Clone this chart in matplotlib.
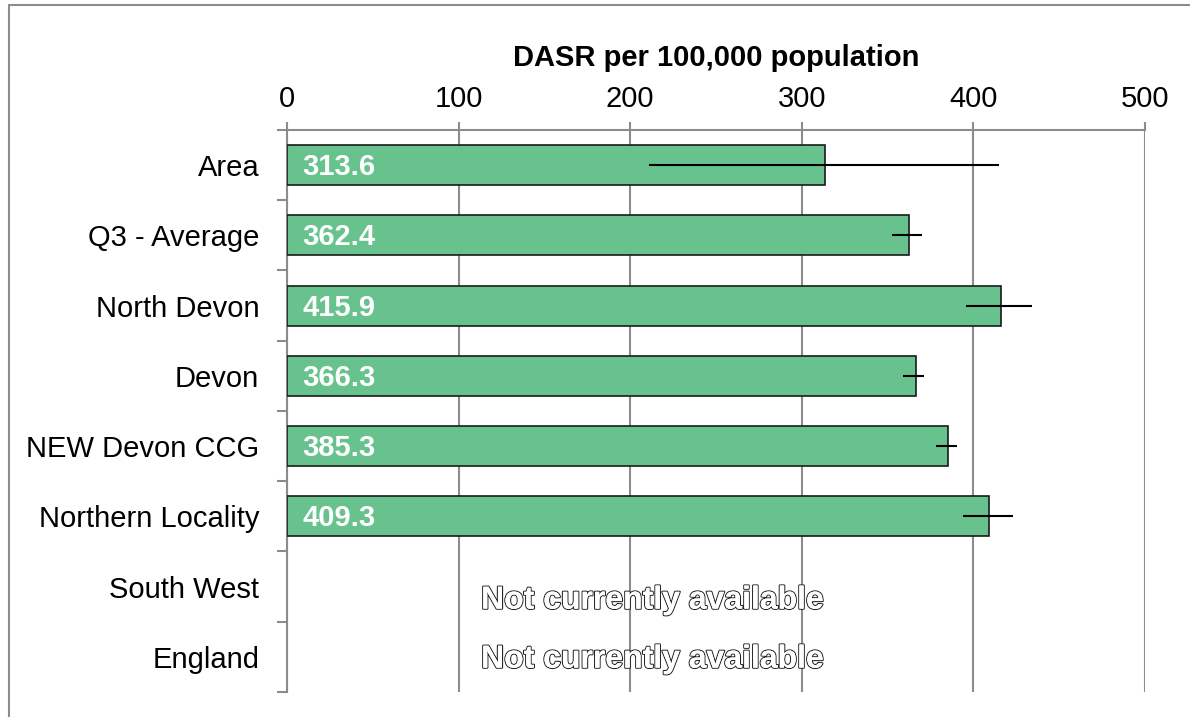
import matplotlib.pyplot as plt
import matplotlib.patheffects as pe
from matplotlib.patches import Rectangle

plt.rcParams['font.family'] = ['Liberation Sans', 'DejaVu Sans']

areas = ['Area', 'Q3 - Average', 'North Devon', 'Devon', 'NEW Devon CCG',
         'Northern Locality', 'South West', 'England']
values = [313.6, 362.4, 415.9, 366.3, 385.3, 409.3]
lower_ci = [211.0, 352.6, 395.7, 359.0, 378.0, 394.0]
upper_ci = [415.0, 370.0, 434.0, 371.0, 390.4, 423.0]
missing = ['South West', 'England']

bar_color = '#67C28E'
grid_color = '#8C8C8C'

fig = plt.figure(figsize=(11.9, 7.17), dpi=100)
ax = fig.add_axes([0.2412, 0.0349, 0.721, 0.7838])

ypos = list(range(len(values)))
err_lo = [v - lo for v, lo in zip(values, lower_ci)]
err_hi = [hi - v for v, hi in zip(values, upper_ci)]

ax.barh(ypos, values, height=0.57, color=bar_color, edgecolor='#1a1a1a',
        linewidth=1.2, zorder=3)
ax.errorbar(values, ypos, xerr=[err_lo, err_hi], fmt='none', ecolor='black',
            elinewidth=1.5, capsize=0, zorder=4)

for y, v in zip(ypos, values):
    ax.text(9, y + 0.03, f'{v:.1f}', color='white', fontweight='bold', fontsize=21,
            va='center', ha='left', zorder=5)

# outlined "not available" notes
for name, dy in zip(missing, [0.2, 0.04]):
    y = areas.index(name) + dy
    ax.text(213, y, 'Not currently available', ha='center', va='center',
            fontsize=23, fontweight='bold', color='white', zorder=5,
            path_effects=[pe.withStroke(linewidth=1.6, foreground='#222222'),
                          pe.Normal()])

ax.set_xlim(0, 500)
ax.set_ylim(len(areas) - 0.5, -0.5)

ax.xaxis.tick_top()
ax.xaxis.set_label_position('top')
ax.set_xticks([0, 100, 200, 300, 400, 500])
ax.set_xlabel('DASR per 100,000 population', fontsize=21, fontweight='bold',
              labelpad=14)
ax.tick_params(axis='x', labelsize=21, length=6, width=1.5, color=grid_color,
               pad=6)

ax.set_yticks(range(len(areas)))
ax.set_yticklabels(areas)
ax.set_yticks([i - 0.5 for i in range(len(areas) + 1)], minor=True)
ax.tick_params(axis='y', which='major', labelsize=21, length=0, pad=20)
ax.tick_params(axis='y', which='minor', length=7, width=1.5, color=grid_color)

ax.grid(axis='x', color=grid_color, linewidth=1.5, zorder=0)
ax.set_axisbelow(True)
for side in ['right', 'bottom']:
    ax.spines[side].set_visible(False)
for side in ['left', 'top']:
    ax.spines[side].set_color(grid_color)
    ax.spines[side].set_linewidth(1.5)

# outer frame of the chart area
fig.patches.append(Rectangle((0.0075, -0.05), 1.1, 1.043, transform=fig.transFigure,
                             fill=False, edgecolor='#8C8C8C', linewidth=1.5))

fig.savefig('out.png', dpi=100)
